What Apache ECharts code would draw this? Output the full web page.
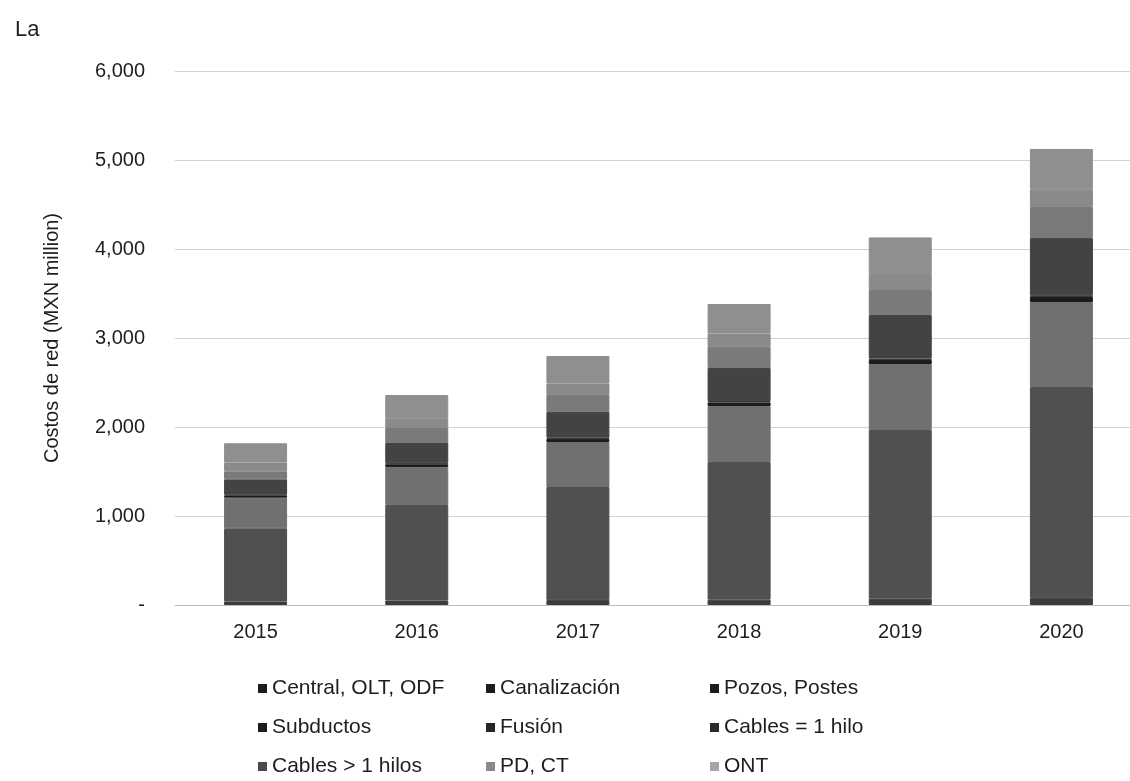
<!DOCTYPE html>
<html>
<head>
<meta charset="utf-8">
<script src="https://cdn.jsdelivr.net/npm/echarts@6/dist/echarts.min.js"></script>
<style>
html,body{margin:0;padding:0;background:#fff;}
#chart{width:1130px;height:781px;}
</style>
</head>
<body>
<div id="chart"></div>
<script>
const categories = ['2015', '2016', '2017', '2018', '2019', '2020'];
const seriesNames = ['Central, OLT, ODF', 'Canalización', 'Pozos, Postes', 'Subductos', 'Fusión', 'Cables = 1 hilo', 'Cables > 1 hilos', 'PD, CT', 'ONT'];
const central = [40, 50, 55, 60, 70, 80];
const canalizacion = [822, 1074, 1271, 1547, 1896, 2369];
const pozos = [344, 427, 505, 629, 742, 955];
const subductos = [24, 30, 35, 40, 45, 57];
const fusion = [10, 12, 14, 16, 18, 20];
const cables1 = [172, 227, 289, 371, 487, 643];
const cablesN = [90, 169, 191, 237, 281, 348];
const pdct = [100, 110, 130, 150, 180, 200];
const ont = [215, 261, 308, 332, 411, 452];
const yTicks = [0, 1000, 2000, 3000, 4000, 5000, 6000];

const seriesData = [central, canalizacion, pozos, subductos, fusion, cables1, cablesN, pdct, ont];
const colors = ['#3c3c3c', '#505050', '#707070', '#1c1c1c', '#383838', '#434343', '#7a7a7a', '#8a8a8a', '#8f8f8f'];
const legendColors = ['#1c1c1c', '#1c1c1c', '#1c1c1c', '#1c1c1c', '#262626', '#2a2a2a', '#4a4a4a', '#8a8a8a', '#a6a6a6'];
const FONT = '"Liberation Sans", Arial, sans-serif';
const TXT = '#1e1e1e';

const chart = echarts.init(document.getElementById('chart'), null, {renderer: 'canvas'});

const legendCols = [
  {left: 258, idx: [0, 3, 6]},
  {left: 486, idx: [1, 4, 7]},
  {left: 710, idx: [2, 5, 8]}
];

const option = {
  animation: false,
  backgroundColor: '#ffffff',
  color: colors,
  title: {
    text: 'La',
    left: 10, top: 14,
    textStyle: {fontFamily: FONT, fontSize: 22, fontWeight: 'normal', color: TXT}
  },
  legend: legendCols.map(c => ({
    left: c.left, top: 678,
    padding: 0,
    orient: 'vertical',
    itemGap: 18,
    itemWidth: 9, itemHeight: 9,
    icon: 'rect',
    data: c.idx.map(i => ({name: seriesNames[i], itemStyle: {color: legendColors[i], borderWidth: 0}})),
    selectedMode: false,
    textStyle: {fontFamily: FONT, fontSize: 21, lineHeight: 20, color: TXT}
  })),
  grid: {left: 175, top: 71, width: 967, height: 534, containLabel: false, outerBoundsMode: 'none'},
  xAxis: {
    type: 'category',
    data: categories,
    axisTick: {show: false},
    axisLine: {lineStyle: {color: '#bdbdbd', width: 1}},
    axisLabel: {fontFamily: FONT, fontSize: 20, color: TXT, margin: 17}
  },
  yAxis: {
    type: 'value',
    min: yTicks[0], max: yTicks[yTicks.length - 1], interval: 1000,
    name: 'Costos de red (MXN million)',
    nameLocation: 'middle',
    nameRotate: 90,
    nameGap: 113,
    nameTextStyle: {fontFamily: FONT, fontSize: 20, color: TXT},
    axisLine: {show: false},
    axisTick: {show: false},
    splitLine: {lineStyle: {color: '#d2d2d2', width: 1}},
    axisLabel: {
      fontFamily: FONT, fontSize: 20, color: TXT, margin: 30,
      formatter: v => v === 0 ? '-' : v.toLocaleString('en-US')
    }
  },
  series: seriesNames.map((n, i) => ({
    name: n,
    type: 'bar',
    stack: 'total',
    barWidth: 63,
    data: seriesData[i],
    itemStyle: {color: colors[i], borderColor: colors[i], borderWidth: 1}
  }))
};
chart.setOption(option);
</script>
</body>
</html>
